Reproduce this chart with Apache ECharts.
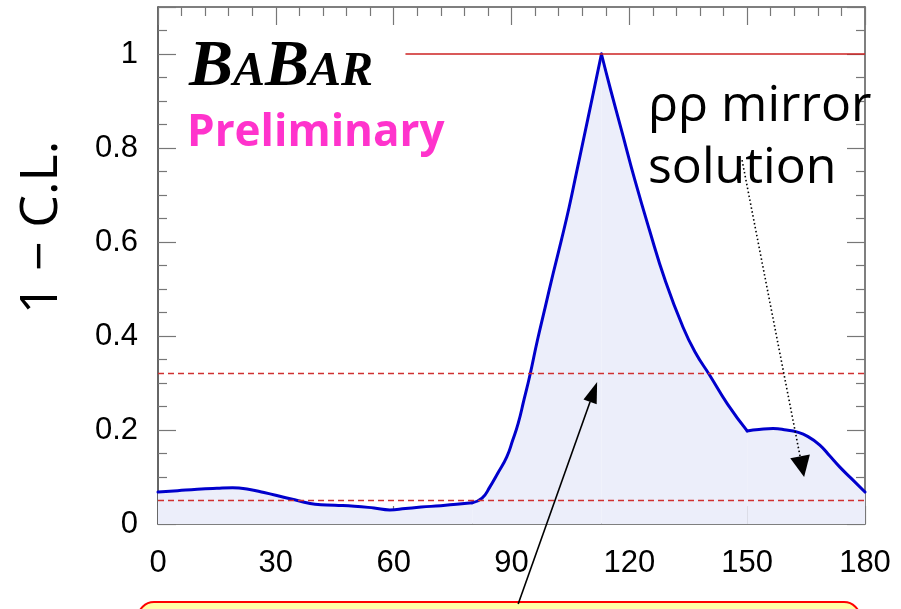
<!DOCTYPE html>
<html>
<head>
<meta charset="utf-8">
<script src="https://cdn.jsdelivr.net/npm/echarts@6/dist/echarts.min.js"></script>
<style>
html,body{margin:0;padding:0;background:#ffffff;}
#chart{width:901px;height:609px;}
</style>
</head>
<body>
<div id="chart"></div>
<script>
// ---- data ----
const phiDeg = [0,5,10,15,19,23,27,32,36,40,45,50,55,59,63,67,72,76,80,
  82.5,84.5,86.5,88.8,90.3,91.7,93.2,94.7,96.6,98.6,100.6,102.7,104.7,106.5,108.3,110.6,112.9,
  115.2,118,121.4,125.1,129.1,133.7,136.8,140.5,145,150,
  153,156.6,160,162.6,165.5,168.5,171,173.6,176.5,180];
const oneMinusCL = [0.068,0.071,0.074,0.076,0.077,0.074,0.067,0.057,0.049,0.042,0.040,0.038,0.034,0.030,0.033,0.036,0.039,0.042,0.045,
  0.055,0.079,0.108,0.143,0.178,0.214,0.265,0.317,0.391,0.462,0.533,0.604,0.675,0.746,0.817,0.908,1.000,
  0.925,0.838,0.732,0.626,0.519,0.418,0.365,0.316,0.255,0.198,
  0.201,0.203,0.200,0.196,0.186,0.168,0.145,0.121,0.097,0.068];
const kinkPhi = [80,112.9,150];      // points where the curve has a corner
const xTicks = [0,30,60,90,120,150,180];
const yTicks = [0,0.2,0.4,0.6,0.8,1];
const yMax = 1.1;
const clLevels = [0.3173,0.0455];   // dashed red reference levels
const topLevel = 1;                 // solid red line
const topLevelStart = 63;
// annotation arrows, in data units [phi, 1-CL]
const arrowMain = [[91.7,-0.170],[111.8,0.302]];
const arrowMirror = [[148.7,0.774],[164.5,0.100]];

const points = phiDeg.map((x,i)=>[x, oneMinusCL[i]]);
// split into smooth pieces between the corners
const cuts = [phiDeg[0]].concat(kinkPhi, [phiDeg[phiDeg.length-1]]);
const pieces = [];
for (let k=0;k<cuts.length-1;k++){
  pieces.push(points.filter(p=>p[0]>=cuts[k] && p[0]<=cuts[k+1]));
}

const chart = echarts.init(document.getElementById('chart'), null, {renderer:'canvas'});

const lineCol = '#555555';
function makeX(pos, showLabel){
  return {
    type:'value', position:pos, min:xTicks[0], max:xTicks[xTicks.length-1], interval:xTicks[1]-xTicks[0],
    axisLine:{show:true, onZero:false, lineStyle:{color:lineCol, width:1.5}},
    axisTick:{show:true, inside:true, length:18, lineStyle:{color:'#777', width:1.2}},
    minorTick:{show:true, splitNumber:5, length:9, lineStyle:{color:'#777', width:1.2}},
    splitLine:{show:false},
    axisLabel:{show:showLabel, margin:24, color:'#000', fontSize:31, fontFamily:'Liberation Sans'}
  };
}
function makeY(pos, showLabel){
  const o = {
    type:'value', position:pos, min:yTicks[0], max:yMax, interval:yTicks[1]-yTicks[0],
    axisLine:{show:true, onZero:false, lineStyle:{color:pos==='left'?'#333':lineCol, width:1.5}},
    axisTick:{show:true, inside:true, length:18, lineStyle:{color:'#777', width:1.2}},
    minorTick:{show:true, splitNumber:4, length:9, lineStyle:{color:'#777', width:1.2}},
    splitLine:{show:false},
    axisLabel:{show:showLabel, showMaxLabel:false, margin:20, color:'#000', fontSize:31, fontFamily:'Liberation Sans'}
  };
  if (showLabel) {
    o.name = '1 \u2212 C.L.';
    o.nameLocation = 'middle';
    o.nameRotate = 90;
    o.nameGap = 90;
    o.nameTextStyle = {fontSize:52, fontFamily:'Open Sans', color:'#000', padding:[0,0,0,76]};
  }
  return o;
}

const series = pieces.map((d,k)=>{
  const s = {
    type:'line', xAxisIndex:0, yAxisIndex:0, name:'1-CL',
    data:d, showSymbol:false, smooth:0.5,
    lineStyle:{color:'#0000cc', width:3, cap:'round', join:'round'},
    areaStyle:{color:'#eceefa', opacity:1, origin:'start'},
    z:3
  };
  if (k===0){
    s.markLine = {
      silent:true, symbol:['none','none'], animation:false,
      label:{show:false},
      lineStyle:{color:'#d03030', type:[6,4], width:1.4},
      data:[
        {yAxis:clLevels[0]},
        {yAxis:clLevels[1]},
        [{coord:[topLevelStart, topLevel], lineStyle:{color:'#cc2222', type:'solid', width:1.5}},{coord:[xTicks[xTicks.length-1], topLevel]}]
      ]
    };
  }
  return s;
});

chart.setOption({
  animation:false,
  backgroundColor:'#ffffff',
  grid:{left:158, right:36, top:7, bottom:85, containLabel:false},
  xAxis:[makeX('bottom', true), makeX('top', false)],
  yAxis:[makeY('left', true), makeY('right', false)],
  series:series
});

function arrow(seg, dotted, headLen, headW, lw){
  const p0 = chart.convertToPixel({gridIndex:0}, seg[0]);
  const p1 = chart.convertToPixel({gridIndex:0}, seg[1]);
  const dx = p1[0]-p0[0], dy = p1[1]-p0[1];
  const L = Math.hypot(dx,dy);
  const ux = dx/L, uy = dy/L;
  const bx = p1[0]-ux*headLen, by = p1[1]-uy*headLen;
  const nx = -uy, ny = ux;
  return [
    {type:'line', z:200, shape:{x1:p0[0],y1:p0[1],x2:bx,y2:by},
     style:{stroke:'#000', lineWidth:lw, lineDash: dotted?[1.5,2.5]:null}},
    {type:'polygon', z:200, shape:{points:[[p1[0],p1[1]],[bx+nx*headW/2,by+ny*headW/2],[bx-nx*headW/2,by-ny*headW/2]]},
     style:{fill:'#000'}}
  ];
}

const graphics = [
  {type:'rect', z:150, shape:{x:138, y:602, width:722, height:40, r:16},
   style:{fill:'#ffffa8', stroke:'#ff0000', lineWidth:2}},
  {type:'text', z:160, left:189, top:35,
   style:{text:'{b|B}{s|A}{b|B}{s|AR}', rich:{
     b:{fontSize:66, fontFamily:'Liberation Serif', fontStyle:'italic', fontWeight:'bold', fill:'#000', verticalAlign:'bottom'},
     s:{fontSize:48, fontFamily:'Liberation Serif', fontStyle:'italic', fontWeight:'bold', fill:'#000', verticalAlign:'bottom', padding:[0,0,4,0]}
   }}},
  {type:'text', z:160, left:187, top:111,
   style:{text:'Preliminary', fontSize:44, fontWeight:'bold', fontFamily:'Open Sans', fill:'#ff33cc'}},
  {type:'text', z:160, left:648, top:76,
   style:{text:'\u03c1\u03c1 mirror\nsolution', fontSize:50, lineHeight:62, fontFamily:'Open Sans', fill:'#000'}},
  {type:'text', z:160, left:33, top:-40,
   style:{text:'o', fontSize:40, fontWeight:'bold', fontFamily:'Open Sans', fill:'#ff33cc'}}
];
chart.setOption({graphic: graphics.concat(arrow(arrowMain,false,21,14,1.6), arrow(arrowMirror,true,21,20,1.6))});
</script>
</body>
</html>
